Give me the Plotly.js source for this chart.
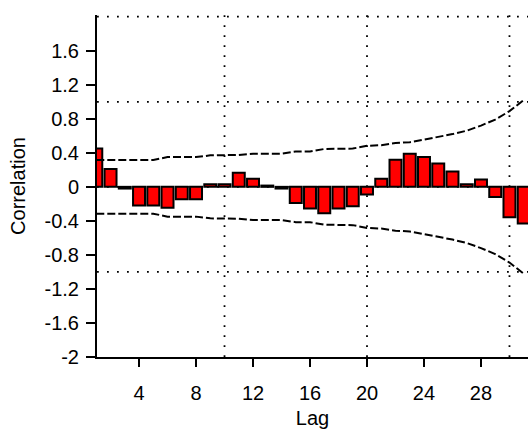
<!DOCTYPE html>
<html>
<head>
<meta charset="utf-8">
<script src="https://cdn.plot.ly/plotly-3.0.1.min.js"></script>
<style>
  html, body { margin: 0; padding: 0; background: #ffffff; overflow: hidden; }
  #chart { width: 528px; height: 429px; }
</style>
</head>
<body>
<div id="chart"></div>
<script>
// Autocorrelation by lag
const lags = [1, 2, 3, 4, 5, 6, 7, 8, 9, 10, 11, 12, 13, 14, 15, 16,
              17, 18, 19, 20, 21, 22, 23, 24, 25, 26, 27, 28, 29, 30, 31];
const acf = [0.45, 0.21, -0.02, -0.22, -0.22, -0.245, -0.145, -0.145, 0.03, 0.03,
             0.165, 0.094, 0.015, -0.02, -0.19, -0.255, -0.31, -0.255, -0.227, -0.09,
             0.094, 0.32, 0.39, 0.35, 0.275, 0.18, 0.03, 0.086, -0.12, -0.357, -0.43];

// Confidence limit half-width at each lag
const limit = [0.315, 0.315, 0.315, 0.315, 0.315, 0.35, 0.35, 0.35, 0.37, 0.37,
               0.375, 0.39, 0.39, 0.39, 0.415, 0.415, 0.445, 0.445, 0.45, 0.483,
               0.49, 0.515, 0.525, 0.555, 0.585, 0.62, 0.66, 0.72, 0.79, 0.89, 1.02];
const upperLimit = limit.map(v => v);
const lowerLimit = limit.map(v => -v);

// Axis ticks
const xTickVals = [4, 8, 12, 16, 20, 24, 28];
const xTickText = ["4", "8", "12", "16", "20", "24", "28"];
const yTickVals = [-2, -1.6, -1.2, -0.8, -0.4, 0, 0.4, 0.8, 1.2, 1.6];
const yTickText = ["-2", "-1.6", "-1.2", "-0.8", "-0.4", "0", "0.4", "0.8", "1.2", "1.6"];

// Dotted reference lines
const gridX = [10, 20, 30];
const gridY = [-1, 0, 1, 2];

const font = "Liberation Sans, Arial, Helvetica, sans-serif";
const dotted = { color: "#000000", width: 1.8, dash: "1.8px,8.2px" };
const dashed = { color: "#000000", width: 2, dash: "8px,3px" };

const traces = [
  {
    type: "bar",
    x: lags,
    y: acf,
    width: 0.84,
    marker: { color: "#ff0000", line: { color: "#000000", width: 2 } },
    hoverinfo: "x+y"
  },
  {
    type: "scatter",
    mode: "lines",
    x: lags,
    y: upperLimit,
    line: dashed,
    hoverinfo: "skip"
  },
  {
    type: "scatter",
    mode: "lines",
    x: lags,
    y: lowerLimit,
    line: dashed,
    hoverinfo: "skip"
  }
];

const shapes = [];
gridY.forEach(v => shapes.push({
  type: "line", layer: "below",
  xref: "paper", x0: 0, x1: 1,
  yref: "y", y0: v, y1: v,
  line: dotted
}));
gridX.forEach(v => shapes.push({
  type: "line", layer: "below",
  xref: "x", x0: v, x1: v,
  yref: "paper", y0: 0, y1: 1,
  line: dotted
}));

const layout = {
  width: 528,
  height: 429,
  margin: { l: 97, r: 0, t: 15, b: 72, pad: 0 },
  paper_bgcolor: "#ffffff",
  plot_bgcolor: "#ffffff",
  showlegend: false,
  bargap: 0,
  font: { family: font, color: "#000000" },
  xaxis: {
    range: [1.05, 31.3],
    tickvals: xTickVals,
    ticktext: xTickText,
    ticks: "outside",
    ticklen: 8,
    tickwidth: 2,
    tickcolor: "#000000",
    ticklabelstandoff: 9,
    tickfont: { family: font, size: 20, color: "#000000" },
    showline: true,
    linecolor: "#000000",
    linewidth: 2,
    showgrid: false,
    zeroline: false,
    automargin: false,
    title: { text: "Lag", font: { family: font, size: 20, color: "#000000" }, standoff: 18 }
  },
  yaxis: {
    range: [-2, 2.02],
    tickvals: yTickVals,
    ticktext: yTickText,
    ticks: "outside",
    ticklen: 9,
    tickwidth: 2,
    tickcolor: "#000000",
    ticklabelstandoff: 3,
    tickfont: { family: font, size: 20, color: "#000000" },
    showline: true,
    linecolor: "#000000",
    linewidth: 2,
    showgrid: false,
    zeroline: false,
    automargin: false,
    title: { text: "Correlation", font: { family: font, size: 20, color: "#000000" }, standoff: 14 }
  },
  shapes: shapes
};

Plotly.newPlot("chart", traces, layout, { displayModeBar: false, staticPlot: true });
</script>
</body>
</html>
